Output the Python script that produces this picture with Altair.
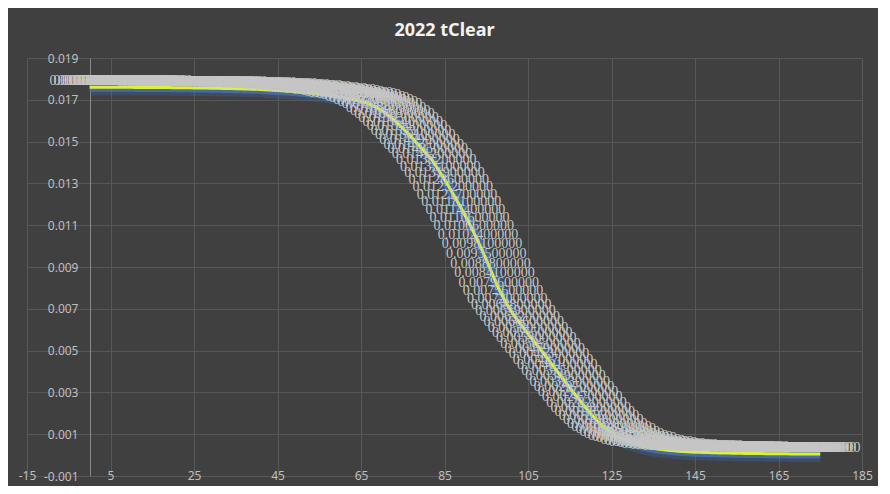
import altair as alt
import pandas as pd

x_vals = list(range(0, 176))
y_vals = [
    0.017600, 0.017600, 0.017600, 0.017599, 0.017599, 0.017598, 0.017598, 0.017597, 0.017597, 0.017596,
    0.017595, 0.017594, 0.017593, 0.017592, 0.017591, 0.017590, 0.017588, 0.017587, 0.017585, 0.017583,
    0.017581, 0.017579, 0.017577, 0.017575, 0.017572, 0.017570, 0.017567, 0.017564, 0.017561, 0.017558,
    0.017554, 0.017550, 0.017546, 0.017542, 0.017537, 0.017532, 0.017527, 0.017521, 0.017515, 0.017508,
    0.017500, 0.017492, 0.017483, 0.017473, 0.017462, 0.017450, 0.017437, 0.017423, 0.017408, 0.017392,
    0.017375, 0.017357, 0.017338, 0.017317, 0.017295, 0.017272, 0.017247, 0.017221, 0.017193, 0.017163,
    0.017131, 0.017097, 0.017061, 0.017022, 0.016981, 0.016940, 0.016870, 0.016790, 0.016700, 0.016600,
    0.016490, 0.016340, 0.016180, 0.016010, 0.015830, 0.015640, 0.015440, 0.015230, 0.015010, 0.014790,
    0.014570, 0.014350, 0.014120, 0.013820, 0.013510, 0.013190, 0.012860, 0.012520, 0.012170, 0.011810,
    0.011440, 0.011060, 0.010660, 0.010240, 0.009810, 0.009350, 0.008880, 0.008410, 0.007960, 0.007560,
    0.007200, 0.006880, 0.006590, 0.006320, 0.006060, 0.005800, 0.005550, 0.005300, 0.005050, 0.004790,
    0.004530, 0.004270, 0.004010, 0.003750, 0.003490, 0.003230, 0.002970, 0.002720, 0.002470, 0.002220,
    0.001980, 0.001760, 0.001560, 0.001380, 0.001220, 0.001080, 0.000950, 0.000840, 0.000740, 0.000650,
    0.000575, 0.000510, 0.000455, 0.000405, 0.000362, 0.000325, 0.000293, 0.000265, 0.000241, 0.000220,
    0.000202, 0.000186, 0.000172, 0.000160, 0.000150, 0.000141, 0.000133, 0.000126, 0.000120, 0.000114,
    0.000109, 0.000104, 0.000099, 0.000095, 0.000091, 0.000088, 0.000085, 0.000082, 0.000079, 0.000076,
    0.000074, 0.000071, 0.000069, 0.000067, 0.000065, 0.000063, 0.000061, 0.000059, 0.000058, 0.000056,
    0.000055, 0.000053, 0.000052, 0.000051, 0.000050, 0.000049,
]
x_ticks = [-15, 5, 25, 45, 65, 85, 105, 125, 145, 165, 185]
y_ticks = [-0.001, 0.001, 0.003, 0.005, 0.007, 0.009, 0.011, 0.013, 0.015, 0.017, 0.019]

df = pd.DataFrame({"x": x_vals, "y": y_vals})

W, H = 835, 418
GRID = "#575757"
LBL = "#bfbfbf"

xscale = alt.Scale(domain=[-15, 185], nice=False, zero=False)
yscale = alt.Scale(domain=[-0.001, 0.019], nice=False, zero=False)

xenc = alt.X("x:Q", scale=xscale, title=None,
             axis=alt.Axis(values=x_ticks, grid=True, gridColor=GRID, gridWidth=1,
                           domain=False, ticks=False, labelColor=LBL, labelFontSize=12,
                           labelFont="Noto Sans", labelBaseline="middle", labelPadding=-1,
                           labelFlush=False,
                           labelExpr="replace(datum.label, '\u2212', '-')"))
yenc = alt.Y("y:Q", scale=yscale, title=None,
             axis=alt.Axis(values=y_ticks, format=".3f", grid=True, gridColor=GRID, gridWidth=1,
                           domain=True, domainColor="#8a8a8a", domainWidth=1, ticks=False,
                           labelColor=LBL, labelFontSize=12, labelFont="Noto Sans",
                           labelPadding=12, offset=-63, labelFlush=False,
                           labelExpr="replace(datum.label, '\u2212', '-')"))

base = alt.Chart(df)
glow1 = base.mark_line(color="#3f6db8", strokeWidth=16, opacity=0.3).encode(x=xenc, y=yenc)
glow2 = base.mark_line(color="#4f7fc8", strokeWidth=9, opacity=0.6).encode(
    x=alt.X("x:Q", scale=xscale), y=alt.Y("y:Q", scale=yscale))
line = base.mark_line(color="#dcef3c", strokeWidth=3).encode(
    x=alt.X("x:Q", scale=xscale), y=alt.Y("y:Q", scale=yscale))
labels = base.mark_text(color="#c6c6c6", fontSize=14, font="Liberation Sans Narrow",
                        baseline="middle", align="center", dy=-6).encode(
    x=alt.X("x:Q", scale=xscale), y=alt.Y("y:Q", scale=yscale),
    text=alt.Text("y:Q", format=".10f"))

chart = alt.layer(glow1, glow2, line, labels).properties(
    width=W, height=H,
    title=alt.TitleParams("2022 tClear", color="#f2f2f2", fontSize=18, font="Noto Sans",
                          fontWeight="bold", anchor="middle", frame="group", offset=12),
    autosize=alt.AutoSizeParams(type="none"),
    padding={"left": 19, "top": 50, "right": 16, "bottom": 10},
    background="#404040",
).configure_view(stroke=None)

chart.save("out.html", embed_options={"renderer": "svg", "actions": False})
